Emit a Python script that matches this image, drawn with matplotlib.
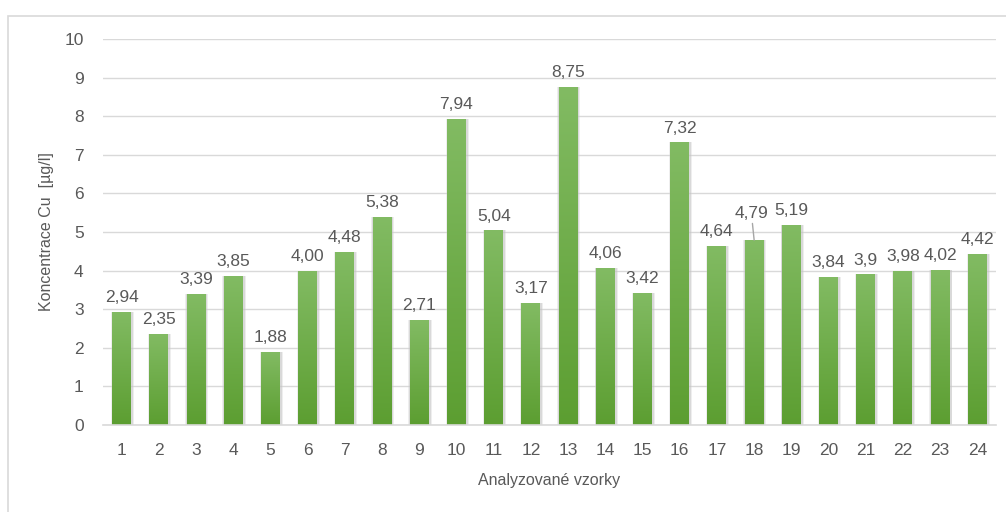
import numpy as np
import matplotlib
matplotlib.use('Agg')
import matplotlib.pyplot as plt
from matplotlib.colors import LinearSegmentedColormap
from matplotlib.patches import Rectangle

plt.rcParams['font.family'] = ['Liberation Sans', 'DejaVu Sans']

samples = [str(i) for i in range(1, 25)]
values = [2.94, 2.35, 3.39, 3.85, 1.88, 4.00, 4.48, 5.38, 2.71, 7.94, 5.04, 3.17,
          8.75, 4.06, 3.42, 7.32, 4.64, 4.79, 5.19, 3.84, 3.90, 3.98, 4.02, 4.42]
labels = ['2,94', '2,35', '3,39', '3,85', '1,88', '4,00', '4,48', '5,38', '2,71', '7,94',
          '5,04', '3,17', '8,75', '4,06', '3,42', '7,32', '4,64', '4,79', '5,19', '3,84',
          '3,9', '3,98', '4,02', '4,42']

txt = '#595959'
grid = '#d9d9d9'
fs = 12.5

fig = plt.figure(figsize=(10.06, 5.12), dpi=100)
# chart frame
fig.patches.append(Rectangle((8 / 1006, -0.1), 1.2, 1 - 16 / 512 + 0.1,
                             transform=fig.transFigure, fill=False,
                             edgecolor='#d9d9d9', linewidth=1.2))
ax = fig.add_axes([103 / 1006, 1 - 425 / 512, 893 / 1006, 386 / 512])

x = np.arange(len(values))

cmap = LinearSegmentedColormap.from_list('g', ['#5c9e31', '#82bb63'])
grad = np.linspace(0, 1, 256).reshape(-1, 1)

# soft shadow
ax.bar(x + 0.02, values, width=0.62, color='#d0d0d0', alpha=0.35, zorder=2, linewidth=0)
ax.bar(x + 0.02, values, width=0.57, color='#c0c0c0', alpha=0.45, zorder=2, linewidth=0)
bars = ax.bar(x, values, width=0.51, color='none', zorder=3, linewidth=0)
for b, v in zip(bars, values):
    im = ax.imshow(grad, extent=[b.get_x(), b.get_x() + b.get_width(), 0, v],
                   origin='lower', cmap=cmap, aspect='auto', zorder=3,
                   interpolation='bicubic')
    im.set_clip_path(b)
ax.set_xlim(-0.5, len(values) - 0.5)
ax.set_ylim(0, 10)

for i, (v, lab) in enumerate(zip(values, labels)):
    if samples[i] == '18':
        ax.annotate(lab, xy=(i, v), xytext=(-2, 14), textcoords='offset points',
                    ha='center', va='bottom', fontsize=fs, color=txt,
                    arrowprops=dict(arrowstyle='-', color='#a6a6a6', lw=1,
                                    shrinkA=0, shrinkB=0))
    else:
        ax.annotate(lab, xy=(i, v), xytext=(0, 5), textcoords='offset points',
                    ha='center', va='bottom', fontsize=fs, color=txt)

ax.set_xticks(x)
ax.set_xticklabels(samples)
ax.set_yticks(range(0, 11))
ax.tick_params(axis='both', length=0, labelsize=fs, labelcolor=txt)
ax.tick_params(axis='x', pad=13)
ax.tick_params(axis='y', pad=14)
ax.yaxis.grid(True, color=grid, linewidth=1)
ax.set_axisbelow(True)
for s in ['top', 'right', 'left']:
    ax.spines[s].set_visible(False)
ax.spines['bottom'].set_color(grid)
ax.spines['bottom'].set_linewidth(1.2)
ax.spines['bottom'].set_zorder(4)

ax.set_ylabel('Koncentrace Cu  [µg/l]', fontsize=11.5, color=txt, labelpad=7)
ax.set_xlabel('Analyzované vzorky', fontsize=11.5, color=txt, labelpad=11)

fig.savefig('out.png', dpi=100)
